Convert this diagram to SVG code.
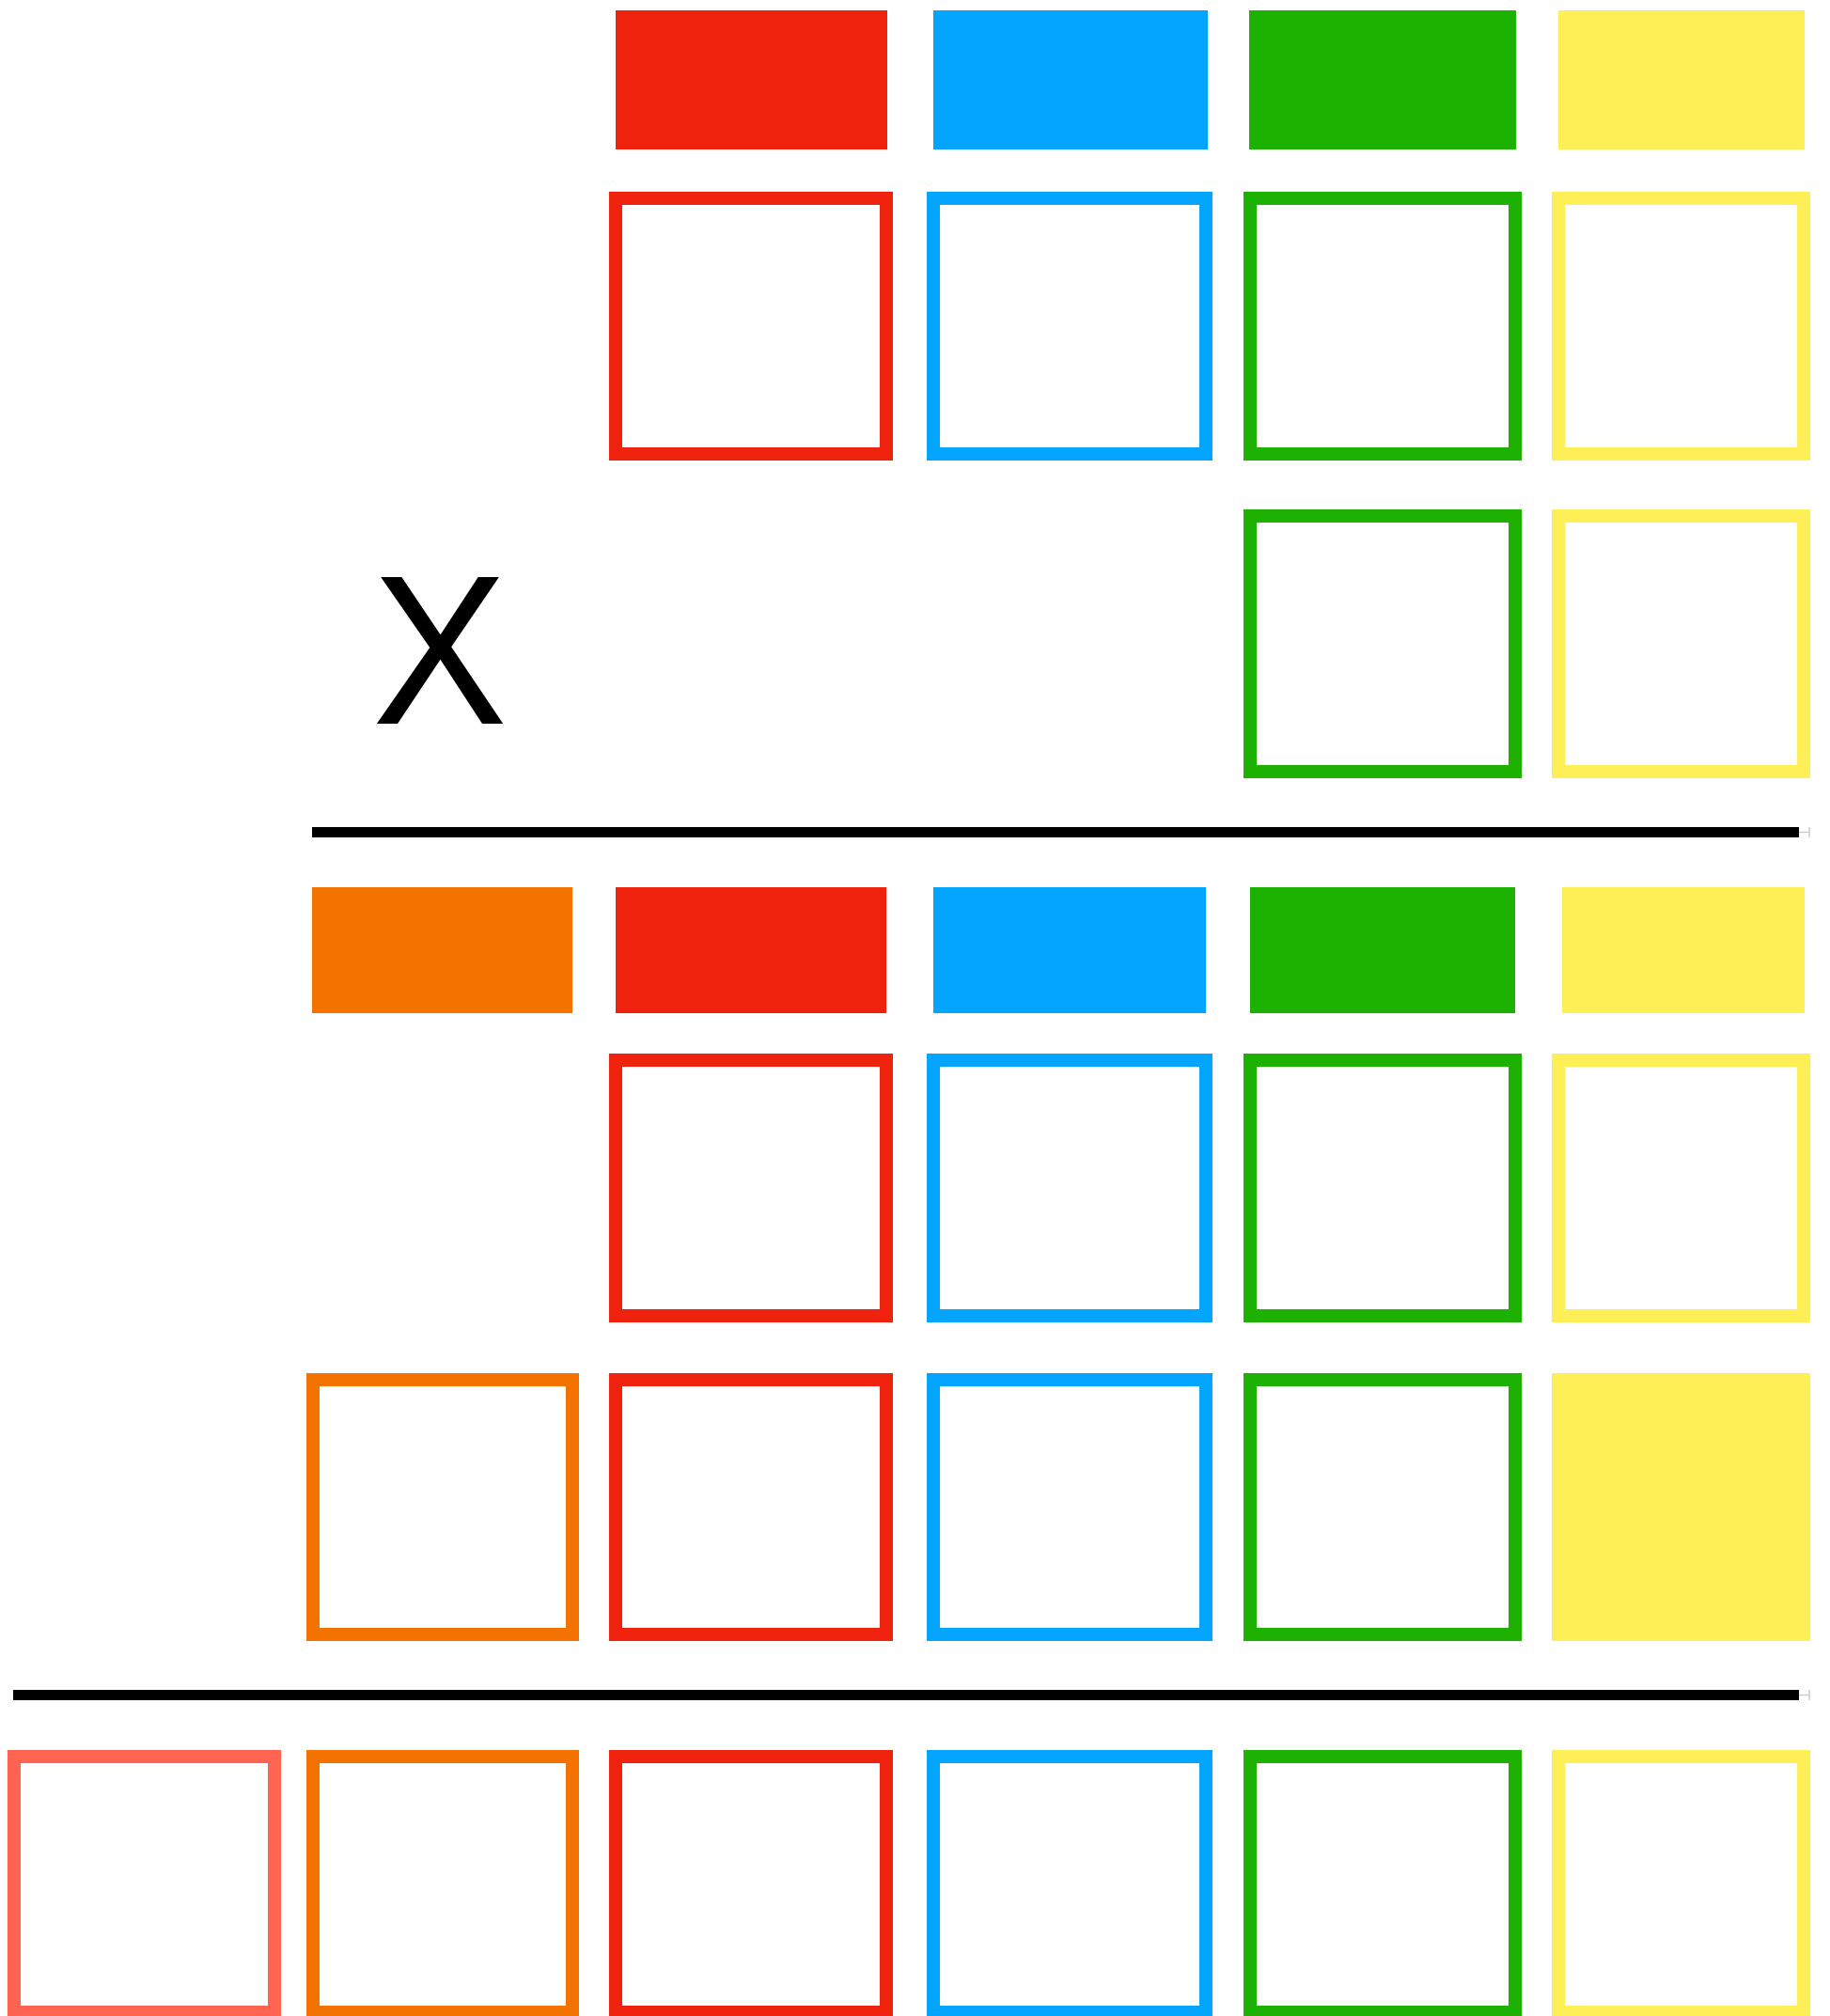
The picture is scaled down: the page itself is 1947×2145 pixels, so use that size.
<svg xmlns="http://www.w3.org/2000/svg" width="1947" height="2145" viewBox="0 0 1947 2145">
<style>
.box{fill:#ffffff;stroke-width:14;stroke-linejoin:miter}
.r{stroke:#EF220E}.rf{fill:#EF220E}
.b{stroke:#03A5FE}.bf{fill:#03A5FE}
.g{stroke:#1DB201}.gf{fill:#1DB201}
.y{stroke:#FEEF56}.yf{fill:#FEEF56}
.o{stroke:#F27300}.of{fill:#F27300}
.s{stroke:#FF6452}
.rule{stroke:#000000;stroke-width:11}
.tick{stroke:#cccccc;stroke-width:1.5;fill:none}
.lbl{font-family:"Liberation Sans",Arial,sans-serif;font-size:227px;fill:#000000}
</style>
<rect width="1947" height="2145" fill="#ffffff"/>
<g id="row1">
<rect id="r1-red" class="rf" x="655" y="11" width="289" height="148"/>
<rect id="r1-blue" class="bf" x="993" y="11" width="292" height="148"/>
<rect id="r1-green" class="gf" x="1329" y="11" width="284" height="148"/>
<rect id="r1-yellow" class="yf" x="1658" y="11" width="262" height="148"/>
</g>
<g id="row2">
<rect id="r2-red" class="box r" x="655" y="211" width="288" height="272"/>
<rect id="r2-blue" class="box b" x="993" y="211" width="290" height="272"/>
<rect id="r2-green" class="box g" x="1330" y="211" width="282" height="272"/>
<rect id="r2-yellow" class="box y" x="1658" y="211" width="261" height="272"/>
</g>
<g id="row3">
<rect id="r3-green" class="box g" x="1330" y="549" width="282" height="272"/>
<rect id="r3-yellow" class="box y" x="1658" y="549" width="261" height="272"/>
</g>
<g id="label-x">
<text class="lbl" x="468" y="770" text-anchor="middle" transform="translate(468 0) scale(0.95 1) translate(-468 0)">X</text>
</g>
<g id="rules">
<line class="rule" x1="332" y1="885.5" x2="609" y2="885.5"/>
<line class="rule" x1="609" y1="885.5" x2="1914" y2="885.5"/>
<path class="tick" d="M1914 885.5H1925M1925 880V891"/>
<line class="rule" x1="14" y1="1803.5" x2="332" y2="1803.5"/>
<line class="rule" x1="332" y1="1803.5" x2="1914" y2="1803.5"/>
<path class="tick" d="M1914 1803.5H1925M1925 1798V1809"/>
</g>
<g id="row4">
<rect id="r4-orange" class="of" x="332" y="944" width="277" height="134"/>
<rect id="r4-red" class="rf" x="655" y="944" width="288" height="134"/>
<rect id="r4-blue" class="bf" x="993" y="944" width="290" height="134"/>
<rect id="r4-green" class="gf" x="1330" y="944" width="282" height="134"/>
<rect id="r4-yellow" class="yf" x="1662" y="944" width="258" height="134"/>
</g>
<g id="row5">
<rect id="r5-red" class="box r" x="655" y="1128" width="288" height="272"/>
<rect id="r5-blue" class="box b" x="993" y="1128" width="290" height="272"/>
<rect id="r5-green" class="box g" x="1330" y="1128" width="282" height="272"/>
<rect id="r5-yellow" class="box y" x="1658" y="1128" width="261" height="272"/>
</g>
<g id="row6">
<rect id="r6-orange" class="box o" x="333" y="1468" width="276" height="271"/>
<rect id="r6-red" class="box r" x="655" y="1468" width="288" height="271"/>
<rect id="r6-blue" class="box b" x="993" y="1468" width="290" height="271"/>
<rect id="r6-green" class="box g" x="1330" y="1468" width="282" height="271"/>
<rect id="r6-yellow" class="yf" x="1651" y="1461" width="275" height="285"/>
</g>
<g id="row7">
<rect id="r7-salmon" class="box s" x="15" y="1869" width="277" height="272"/>
<rect id="r7-orange" class="box o" x="333" y="1869" width="276" height="272"/>
<rect id="r7-red" class="box r" x="655" y="1869" width="288" height="272"/>
<rect id="r7-blue" class="box b" x="993" y="1869" width="290" height="272"/>
<rect id="r7-green" class="box g" x="1330" y="1869" width="282" height="272"/>
<rect id="r7-yellow" class="box y" x="1658" y="1869" width="261" height="272"/>
</g>
</svg>
